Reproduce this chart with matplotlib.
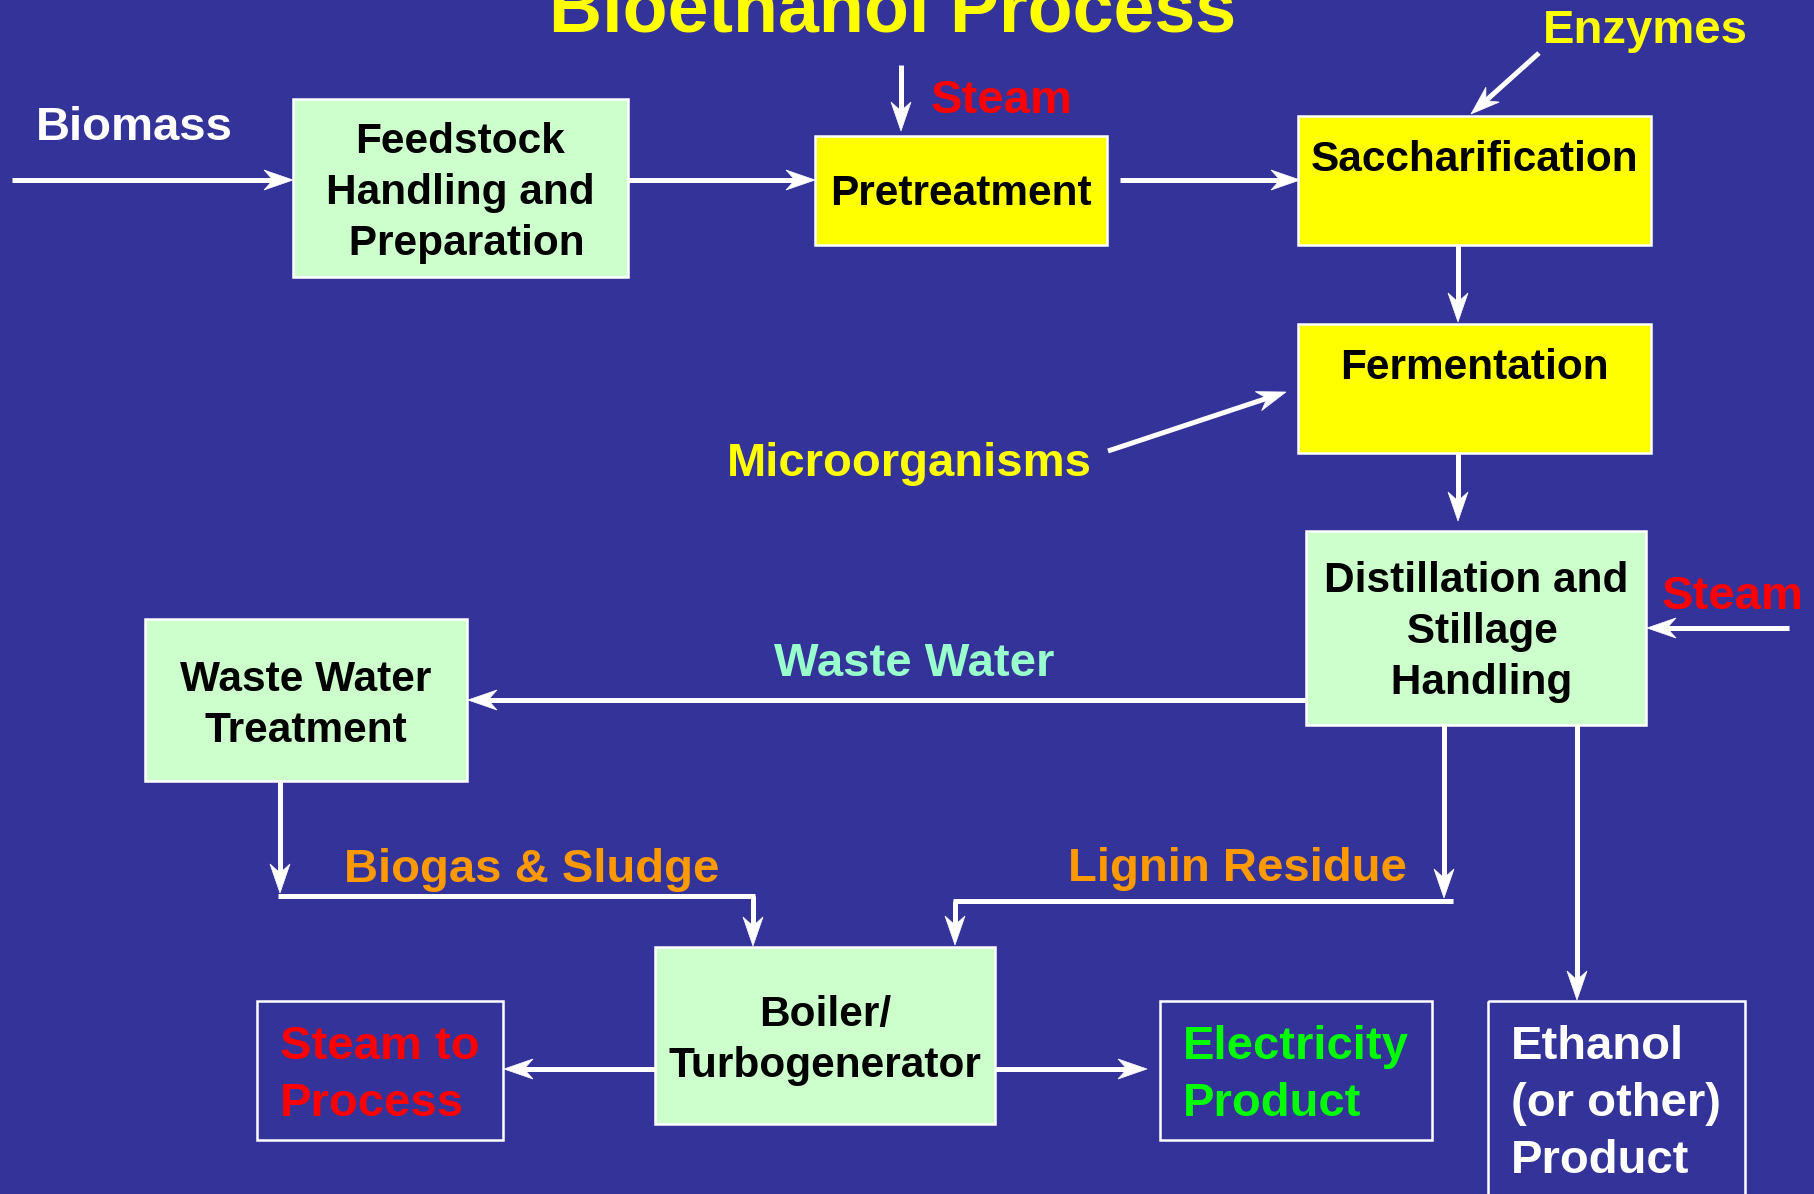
import matplotlib
matplotlib.use('Agg')
import matplotlib.pyplot as plt
from matplotlib.patches import Rectangle, Polygon

BG = '#333399'
GREEN_BOX = '#CCFFCC'
YELLOW = '#FFFF00'

# process boxes: label lines, fill, x0, y0, x1, y1, first baseline
box_names = ['feed', 'pre', 'sacch', 'ferm', 'dist', 'waste', 'boiler']
box_lines = [['Feedstock', 'Handling and', ' Preparation'],
             ['Pretreatment'],
             ['Saccharification'],
             ['Fermentation'],
             ['Distillation and', ' Stillage', ' Handling'],
             ['Waste Water', 'Treatment'],
             ['Boiler/', 'Turbogenerator']]
box_fill = [GREEN_BOX, YELLOW, YELLOW, YELLOW, GREEN_BOX, GREEN_BOX, GREEN_BOX]
box_rect = [(293, 99, 628, 277), (815, 136, 1107, 245), (1298, 116, 1651, 245),
            (1298, 324, 1651, 453), (1306, 531, 1646, 725), (145, 619, 467, 781),
            (655, 947, 995, 1124)]
box_base = [153, 205, 171, 379, 592, 691, 1026]

# output boxes (outlined only)
out_lines = [['Steam to', 'Process'], ['Electricity', 'Product'],
             ['Ethanol', '(or other)', 'Product']]
out_color = ['#FF0000', '#00FF00', 'white']
out_rect = [(257, 1001, 503, 1140), (1160, 1001, 1432, 1140), (1488, 1001, 1745, 1230)]
out_textx = [280, 1183, 1511]

# free labels
lab_text = ['Biomass', 'Steam', 'Enzymes', 'Microorganisms', 'Steam',
            'Waste Water', 'Biogas & Sludge', 'Lignin Residue']
lab_color = ['white', '#FF0000', YELLOW, YELLOW, '#FF0000',
             '#99FFCC', '#FF9900', '#FF9900']
lab_pos = [(36, 140), (931, 113), (1543, 43), (727, 476), (1662, 609),
           (774, 676), (344, 882), (1068, 881)]

# arrows (start -> tip) and plain connector lines
arrows = [((12, 180), (293, 180)), ((628, 180), (815, 180)),
          ((901, 65), (901, 131)), ((1120, 180), (1300, 180)),
          ((1539, 53), (1471, 114)), ((1458, 245), (1458, 322)),
          ((1108, 451), (1286, 392)), ((1458, 453), (1458, 521)),
          ((1789, 628), (1647, 628)), ((1306, 700), (468, 700)),
          ((280, 781), (280, 893)), ((753, 896), (753, 946)),
          ((1444, 725), (1444, 898)), ((955, 901), (955, 945)),
          ((1577, 725), (1577, 1000)), ((655, 1069), (504, 1069)),
          ((995, 1069), (1147, 1069))]
plain_lines = [((278, 896), (755, 896)), ((1453, 901), (953, 901))]

FONT = 'Liberation Sans'
LW = 3.6


def arrow(ax, p0, p1, hl=29, hw=10, notch=9):
    dx, dy = p1[0] - p0[0], p1[1] - p0[1]
    L = (dx * dx + dy * dy) ** 0.5
    ux, uy = dx / L, dy / L
    nx, ny = -uy, ux
    end = (p1[0] - ux * (hl - notch), p1[1] - uy * (hl - notch))
    ax.plot([p0[0], end[0]], [p0[1], end[1]], color='white', lw=LW,
            solid_capstyle='butt', zorder=3)
    back = (p1[0] - ux * hl, p1[1] - uy * hl)
    pts = [p1,
           (back[0] + nx * hw, back[1] + ny * hw),
           end,
           (back[0] - nx * hw, back[1] - ny * hw)]
    ax.add_patch(Polygon(pts, closed=True, facecolor='white', edgecolor='white',
                         lw=0.5, zorder=4))


fig = plt.figure(figsize=(18.14, 11.94), dpi=100, facecolor=BG)
ax = fig.add_axes([0, 0, 1, 1])
ax.set_facecolor(BG)
ax.set_xlim(0, 1814)
ax.set_ylim(1194, 0)
ax.axis('off')

ax.text(893, 32, 'Bioethanol Process', color=YELLOW, fontsize=53,
        fontweight='bold', family=FONT, ha='center', va='baseline')

for lines, fill, (x0, y0, x1, y1), base in zip(box_lines, box_fill, box_rect, box_base):
    ax.add_patch(Rectangle((x0, y0), x1 - x0, y1 - y0, facecolor=fill,
                           edgecolor='white', lw=1.8, zorder=2))
    cx = (x0 + x1) / 2
    for i, s in enumerate(lines):
        ax.text(cx, base + i * 51, s, color='black', fontsize=30.5,
                fontweight='bold', family=FONT, ha='center', va='baseline', zorder=5)

for lines, col, (x0, y0, x1, y1), tx in zip(out_lines, out_color, out_rect, out_textx):
    ax.add_patch(Rectangle((x0, y0), x1 - x0, y1 - y0, facecolor='none',
                           edgecolor='white', lw=1.8, zorder=2))
    for i, s in enumerate(lines):
        ax.text(tx, 1059 + i * 57, s, color=col, fontsize=34,
                fontweight='bold', family=FONT, ha='left', va='baseline', zorder=5)

for s, col, (x, y) in zip(lab_text, lab_color, lab_pos):
    ax.text(x, y, s, color=col, fontsize=34, fontweight='bold', family=FONT,
            ha='left', va='baseline', zorder=5)

for p0, p1 in plain_lines:
    ax.plot([p0[0], p1[0]], [p0[1], p1[1]], color='white', lw=LW,
            solid_capstyle='butt', zorder=3)

for p0, p1 in arrows:
    arrow(ax, p0, p1)

fig.savefig('out.png', dpi=100, facecolor=BG)
